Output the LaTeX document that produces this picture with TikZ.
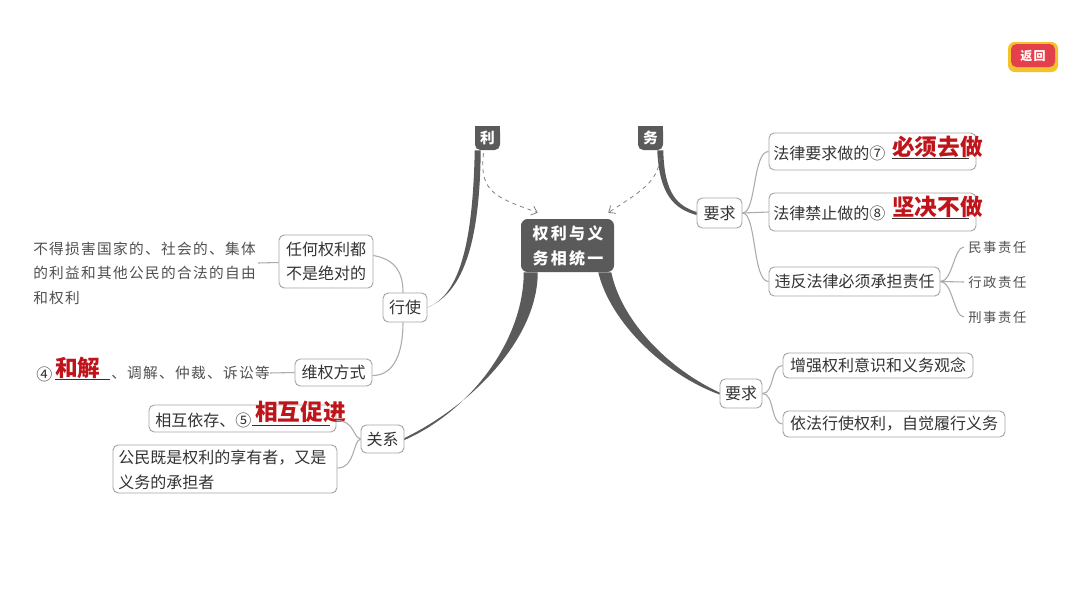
\documentclass[tikz,border=0pt]{standalone}
\usepackage{fontspec}
\setmainfont{Noto Sans CJK SC}
\usetikzlibrary{fit,arrows.meta,calc}
\definecolor{boxc}{HTML}{A6A6A6}
\definecolor{linec}{HTML}{ABABAB}
\definecolor{darkc}{HTML}{5A5A5A}
\definecolor{txtc}{HTML}{333333}
\definecolor{ltc}{HTML}{505050}
\definecolor{redc}{HTML}{C0141B}
\definecolor{btnred}{HTML}{E4404C}
\definecolor{btnyel}{HTML}{F4C22B}
\begin{document}
\begin{tikzpicture}[x=0.75pt,y=-0.75pt,
  box/.style={draw=boxc, line width=0.7pt, rounded corners=4pt, fill=white, inner sep=0pt},
  conn/.style={draw=linec, line width=0.8pt},
  txt/.style={inner sep=0pt, text=txtc, font=\fontsize{12}{18}\selectfont},
  lt/.style={inner sep=0pt, text=ltc, font=\fontsize{11}{18}\selectfont\addfontfeature{LetterSpace=9}},
  sm/.style={inner sep=0pt, text=ltc, font=\fontsize{10}{14}\selectfont\addfontfeature{LetterSpace=12}},
  ans/.style={inner sep=0pt, text=redc, font=\fontsize{17}{20}\selectfont\bfseries},
  uline/.style={draw=txtc, line width=0.6pt},
  darkbox/.style={fill=darkc, draw=none, rounded corners=4pt, inner sep=0pt},
  wtxt/.style={inner sep=0pt, text=white, font=\fontsize{11}{14}\selectfont\bfseries},
  dasharrow/.style={draw=gray, dashed, line width=0.6pt, -{Straight Barb[length=4pt,width=7pt]}}
]
\fill[white] (0,0) rectangle (1080,608);
\useasboundingbox (0,0) rectangle (1080,608);

% ---- top tabs and center ----
\fill[darkc] (475,126) rectangle (500,138);
\fill[darkc] (638,126) rectangle (663,138);
\node[darkbox, fit={(475,126)(500,150)}] (li) {};
\node[wtxt] (lit) at (li.center) {利};
\node[darkbox, fit={(638,126)(663,150)}] (wu) {};
\node[wtxt] (wut) at (wu.center) {务};
\node[darkbox, rounded corners=5pt, fit={(521,219)(614,272)}] (ct) {};
\node[wtxt, font=\fontsize{12}{14}\selectfont\bfseries\addfontfeature{LetterSpace=14}] (ct1) at (568,233) {权利与义};
\node[wtxt, font=\fontsize{12}{14}\selectfont\bfseries\addfontfeature{LetterSpace=14}] (ct2) at (568,258) {务相统一};

% ---- left nodes ----
\node[box, fit={(383,293)(427,322)}] (xs) {};
\node[txt] (xst) at (xs.center) {行使};
\node[box, fit={(279,235)(373,288)}] (rh) {};
\node[txt] (rh1) at (326,249) {任何权利都};
\node[txt] (rh2) at (326,273) {不是绝对的};
\node[box, fit={(295,359)(372,386)}] (wq) {};
\node[txt] (wqt) at (wq.center) {维权方式};
\node[box, fit={(361,425)(404,453)}] (gx) {};
\node[txt] (gxt) at (gx.center) {关系};
\node[box, fit={(149,405)(336,432)}] (hx) {};
\node[box, fit={(113,445)(337,493)}] (gm) {};
\node[txt, anchor=west] (gm1) at (118,458) {公民既是权利的享有者，又是};
\node[txt, anchor=west] (gm2) at (118,482) {义务的承担者};

\node[lt, anchor=west] (lt1) at (33,249) {不得损害国家的、社会的、集体};
\node[lt, anchor=west] (lt2) at (33,273) {的利益和其他公民的合法的自由};
\node[lt, anchor=west] (lt3) at (33,298) {和权利};

\node[txt, anchor=west] (c4) at (36,374) {④};
\node[ans, anchor=west] (a4) at (55,368) {和解};
\draw[uline] (55,379) -- (110,379);
\node[lt, anchor=west] (w2) at (111,373) {、调解、仲裁、诉讼等};

\node[txt, anchor=west] (h1) at (155,420) {相互依存、⑤};
\node[ans, anchor=west] (a5) at (255,412) {相互促进};
\draw[uline] (252,425) -- (330,425);

% ---- right nodes ----
\node[box, fit={(697,198)(742,228)}] (ra) {};
\node[txt] (rat) at (ra.center) {要求};
\node[box, fit={(769,133)(976,170)}] (q7) {};
\node[box, fit={(769,193)(976,231)}] (q8) {};
\node[box, fit={(769,267)(940,296)}] (wf) {};
\node[txt] (wft) at (wf.center) {违反法律必须承担责任};
\node[txt, anchor=west] (t7) at (773,153) {法律要求做的⑦};
\node[ans, anchor=west] (a7) at (892,147) {必须去做};
\draw[uline] (892,158) -- (969,158);
\node[txt, anchor=west] (t8) at (773,213) {法律禁止做的⑧};
\node[ans, anchor=west] (a8) at (892,207) {坚决不做};
\draw[uline] (892,218) -- (969,218);
\node[sm, anchor=west] (m1) at (968,247) {民事责任};
\node[sm, anchor=west] (m2) at (968,282) {行政责任};
\node[sm, anchor=west] (m3) at (968,317) {刑事责任};

\node[box, fit={(720,379)(762,408)}] (rb) {};
\node[txt] (rbt) at (rb.center) {要求};
\node[box, fit={(783,353)(973,378)}] (z1) {};
\node[txt] (z1t) at (z1.center) {增强权利意识和义务观念};
\node[box, fit={(783,411)(1005,437)}] (z2) {};
\node[txt] (z2t) at (z2.center) {依法行使权利，自觉履行义务};

% ---- thick branches ----
\fill[darkc] (li.south west) .. controls +(-2,100) and +(30,-12) .. (xs.east)
  .. controls +(33,-14) and +(-1,100) .. ($(li.south west)+(6,0)$) -- cycle;
\fill[darkc] ($(wu.south east)+(-6,0)$) .. controls +(2,45) and +(-22,-6) .. ($(ra.west)+(0,2)$)
  -- ($(ra.west)+(0,-1)$) .. controls +(-18,-6) and +(1,45) .. (wu.south east) -- cycle;
\fill[darkc] ($(ct.south west)+(3,0)$) .. controls +(0,68) and +(66,-29) .. ($(gx.east)+(0,1)$)
  -- ($(gx.east)+(0,-1)$) .. controls +(68,-33) and +(0,66) .. ($(ct.south west)+(17,0)$) -- cycle;
\fill[darkc] ($(ct.south east)+(-16,0)$) .. controls +(12,50) and +(-55,-20) .. ($(rb.west)+(0,1)$)
  -- ($(rb.west)+(0,-1)$) .. controls +(-52,-24) and +(10,48) .. ($(ct.south east)+(-3,0)$) -- cycle;

% ---- dashed arrows ----
\coordinate (a1) at ($(ct.north west)+(17,-6)$);
\coordinate (a2) at ($(ct.north east)+(-6,-6)$);
\draw[dasharrow] ($(li.south)+(-4,3)$) .. controls +(-5,40) and +(-40,-15) .. (a1);
\draw[dasharrow] ($(wu.south east)+(-3,8)$) .. controls +(-3,25) and +(30,-20) .. (a2);

% ---- thin connectors ----
\draw[conn] ($(rh.west)+(0,1)$) -- ($(lt1.east)+(2,14)$);
\draw[conn] (wq.west) -- (w2.east);
\draw[conn] ($(rh.east)+(0,-6)$) .. controls +(22,4) and +(0,-20) .. ($(xs.north)+(-2,0)$);
\draw[conn] ($(xs.south)+(-2,0)$) .. controls +(0,30) and +(22,0) .. ($(wq.east)+(0,3)$);
\draw[conn] (gx.west) .. controls +(-8,-2) and +(18,0) .. ($(hx.east)+(0,2)$);
\draw[conn] (gx.west) .. controls +(-8,2) and +(18,0) .. ($(gm.east)+(0,-1)$);
\draw[conn] (ra.east) .. controls +(14,0) and +(-16,0) .. (q7.west);
\draw[conn] (ra.east) -- (q8.west);
\draw[conn] (ra.east) .. controls +(14,0) and +(-16,0) .. (wf.west);
\draw[conn] (wf.east) .. controls +(12,0) and +(-10,0) .. ($(m1.west)+(-4,0)$);
\draw[conn] (wf.east) -- ($(m2.west)+(-4,0)$);
\draw[conn] (wf.east) .. controls +(12,0) and +(-10,0) .. ($(m3.west)+(-4,0)$);
\draw[conn] (rb.east) .. controls +(12,0) and +(-12,0) .. (z1.west);
\draw[conn] (rb.east) .. controls +(12,0) and +(-12,0) .. (z2.west);

% ---- return button ----
\fill[btnyel, rounded corners=5pt] (1008,42) rectangle (1058,72);
\node[fill=btnred, rounded corners=4pt, inner sep=0pt, fit={(1011,44)(1055,67)}] (btn) {};
\node[inner sep=0pt, text=white, font=\fontsize{9}{10}\selectfont\bfseries\addfontfeature{LetterSpace=10}] (btnt) at (btn.center) {返回};
\end{tikzpicture}
\end{document}
